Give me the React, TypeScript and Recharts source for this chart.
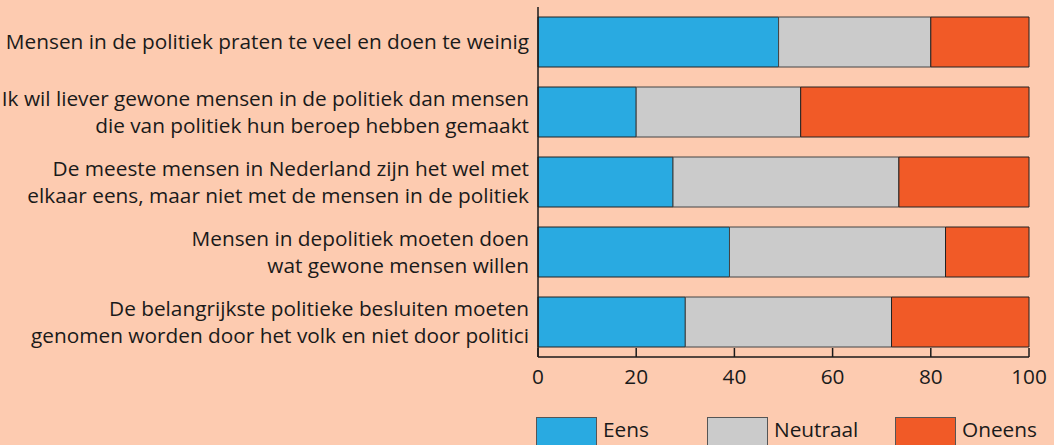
import { Bar, BarChart, Legend, XAxis, YAxis } from "recharts";

const categories = [
  "Mensen in de politiek praten te veel en doen te weinig",
  "Ik wil liever gewone mensen in de politiek dan mensen\ndie van politiek hun beroep hebben gemaakt",
  "De meeste mensen in Nederland zijn het wel met\nelkaar eens, maar niet met de mensen in de politiek",
  "Mensen in depolitiek moeten doen\nwat gewone mensen willen",
  "De belangrijkste politieke besluiten moeten\ngenomen worden door het volk en niet door politici"
];

const eens = [49, 20, 27.5, 39, 30];
const neutraal = [31, 33.5, 46, 44, 42];
const oneens = [20, 46.5, 26.5, 17, 28];

const xTicks = [0, 20, 40, 60, 80, 100];

const data = categories.map((name, i) => ({
  name,
  eens: eens[i],
  neutraal: neutraal[i],
  oneens: oneens[i]
}));

const FONT = "'Open Sans', sans-serif";
const FONT_SIZE = 20.8;
const TEXT = "#1a1a1a";
const BG = "#fdcbb0";

// left edge of each legend swatch
const legendLeft = [536, 707, 895];

function CategoryTick(props: any) {
  const { x, y, payload } = props;
  const lines = String(payload.value).split("\n");
  const lh = 27;
  const first = y - ((lines.length - 1) * lh) / 2 + 7;
  return (
    <text x={x} y={first} textAnchor="end" fontSize={FONT_SIZE} fill={TEXT} fontFamily={FONT}>
      {lines.map((line, i) => (
        <tspan key={i} x={x} dy={i === 0 ? 0 : lh}>
          {line}
        </tspan>
      ))}
    </text>
  );
}

function ValueTick(props: any) {
  const { x, y, payload } = props;
  // ticks point up into the plot
  return (
    <g>
      <line x1={x} x2={x} y1={y} y2={y - 9} stroke={TEXT} strokeWidth={1.5} />
      <text x={x} y={y + 27} textAnchor="middle" fontSize={FONT_SIZE} fill={TEXT} fontFamily={FONT}>
        {payload.value}
      </text>
    </g>
  );
}

const renderLegend = (props: any) => {
  const { payload = [] } = props;
  return (
    <div style={{ position: "relative", width: 1054, height: 40 }}>
      {payload.map((entry: any, i: number) => (
        <div
          key={entry.value}
          style={{ position: "absolute", left: legendLeft[i], top: 0, display: "flex", alignItems: "flex-start" }}
        >
          <div
            style={{
              width: 61,
              height: 34,
              background: entry.color,
              border: "1px solid #555",
              boxSizing: "border-box"
            }}
          />
          <span
            style={{
              marginLeft: 6,
              fontSize: FONT_SIZE,
              fontFamily: FONT,
              color: TEXT,
              lineHeight: "24px"
            }}
          >
            {entry.value}
          </span>
        </div>
      ))}
    </div>
  );
};

export default function App() {
  return (
    <div
      style={{
        position: "absolute",
        left: 0,
        top: 0,
        width: 1054,
        height: 445,
        background: BG,
        overflow: "hidden",
        fontFamily: FONT
      }}
    >
      <BarChart
        width={1054}
        height={445}
        data={data}
        layout="vertical"
        margin={{ top: 7, right: 25, left: 0, bottom: 58 }}
        barSize={50}
      >
        <XAxis
          type="number"
          domain={[0, 100]}
          ticks={xTicks}
          interval={0}
          height={30}
          tickSize={0}
          tickMargin={0}
          tick={<ValueTick />}
          axisLine={{ stroke: TEXT, strokeWidth: 1.5 }}
          tickLine={false}
        />
        <YAxis
          type="category"
          dataKey="name"
          width={538}
          tickSize={0}
          tickMargin={9}
          tick={<CategoryTick />}
          interval={0}
          axisLine={{ stroke: TEXT, strokeWidth: 1.5 }}
          tickLine={false}
        />
        <Legend
          content={renderLegend}
          verticalAlign="middle"
          align="center"
          wrapperStyle={{ left: 0, top: 417, width: 1054, height: 40 }}
        />
        <Bar dataKey="eens" name="Eens" stackId="a" fill="#29aae1" stroke="#222" strokeWidth={1} isAnimationActive={false} />
        <Bar dataKey="neutraal" name="Neutraal" stackId="a" fill="#cbcbcb" stroke="#444" strokeWidth={1} isAnimationActive={false} />
        <Bar dataKey="oneens" name="Oneens" stackId="a" fill="#f15a27" stroke="#222" strokeWidth={1} isAnimationActive={false} />
      </BarChart>
    </div>
  );
}
